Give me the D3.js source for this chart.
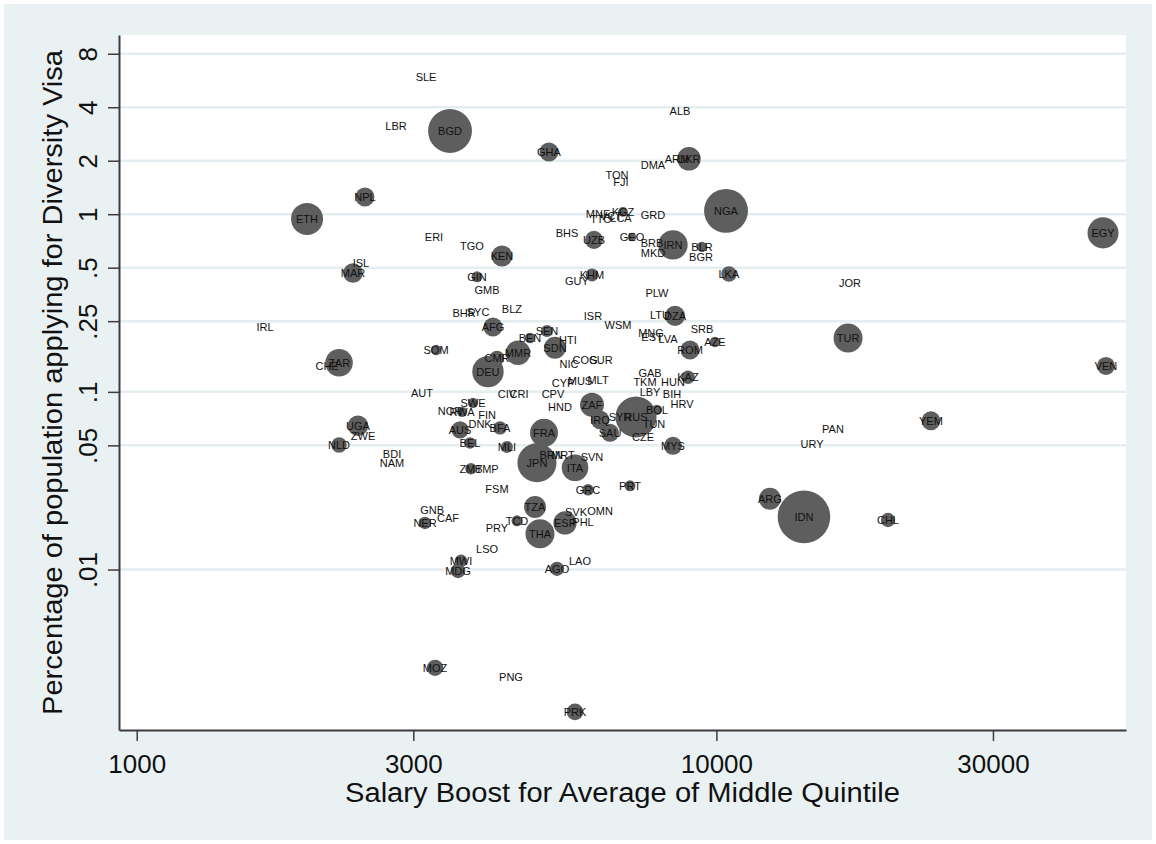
<!DOCTYPE html>
<html><head><meta charset="utf-8">
<script src="https://cdn.jsdelivr.net/npm/d3@7"></script>
<style>body{margin:0;background:#fff}svg{display:block}</style>
</head><body><svg id="c" width="1156" height="844"></svg>
<script>
const codes = ["SLE","LBR","BGD","NPL","ETH","ERI","TGO","ISL","MAR","GIN","GMB","ALB","GHA","ARM","UKR","DMA","TON","FJI","MNE","TTO","VCT","LCA","KGZ","GRD","BHS","UZB","GEO","BRB","IRN","MKD","BLR","BGR","KEN","LKA","KHM","GUY","NGA","EGY","JOR","SRB","AZE","TUR","VEN","YEM","PAN","URY","IRL","SOM","CHE","ZAR","AUT","UGA","ZWE","NLD","BDI","NAM","SWE","NOR","RWA","AUS","BEL","DNK","FIN","BFA","MLI","ZMB","TMP","FSM","GNB","NER","CAF","LSO","MWI","MDG","PRY","TCD","TZA","THA","FRA","JPN","BRN","MRT","ITA","SVN","GRC","SVK","OMN","ESP","PHL","AGO","LAO","CIV","CRI","CPV","HND","ZAF","IRQ","SAU","RUS","SYR","BOL","TUN","CZE","MYS","HRV","BIH","PRT","ARG","IDN","CHL","MOZ","PNG","PRK","BHR","SYC","BLZ","AFG","BEN","SEN","SDN","HTI","MMR","CMR","DEU","NIC","COG","SUR","CYP","MUS","MLT","LTU","DZA","PLW","ISR","WSM","MNG","EST","LVA","ROM","GAB","TKM","HUN","KAZ","LBY"];
const salaryBoost = [3156,2801,3471,2476,1967,3257,3788,2437,2361,3864,4021,8654,5142,8551,8968,7774,6738,6846,6249,6324,6580,6846,6901,7774,5525,6150,7152,7744,8416,7774,9445,9406,4267,10510,6101,5748,10390,46450,17000,9445,9945,16870,47000,23450,15890,14620,1665,3284,2130,2234,3106,2408,2457,2234,2757,2757,3803,3471,3641,3612,3758,3911,4021,4233,4352,3773,4021,4183,3232,3143,3443,4021,3626,3583,4183,4529,4865,4962,5042,4903,5184,5438,5703,6101,6005,5725,6299,5481,5887,5309,5817,4352,4565,5225,5373,6101,6299,6554,7267,6819,7898,7805,7472,8416,8724,8383,7096,12370,14160,19770,3271,4422,5703,3670,3880,4439,4117,4769,5102,5267,5546,4547,4183,4036,5568,5934,6324,5438,5817,6249,7993,8484,7898,6125,6766,7713,7744,8251,9004,7683,7531,8416,8933,7683];
const pctApplying = [5.93,3.14,2.94,1.25,0.941,0.745,0.663,0.532,0.467,0.444,0.375,3.81,2.24,2.05,2.05,1.89,1.66,1.52,1.00,0.941,0.978,0.953,1.03,0.991,0.785,0.717,0.745,0.689,0.672,0.606,0.655,0.575,0.582,0.461,0.455,0.421,1.044,0.785,0.411,0.226,0.191,0.201,0.140,0.0687,0.0619,0.0510,0.232,0.172,0.140,0.146,0.0987,0.0644,0.0565,0.0503,0.0448,0.0399,0.0867,0.0781,0.0772,0.0611,0.0516,0.0661,0.0743,0.0627,0.0490,0.0369,0.0369,0.0284,0.0217,0.0183,0.0195,0.0131,0.0112,0.00983,0.0172,0.0188,0.0225,0.0159,0.0588,0.0399,0.0442,0.0442,0.0374,0.0431,0.0281,0.0211,0.0214,0.0183,0.0186,0.0101,0.0112,0.0974,0.0974,0.0974,0.0823,0.0845,0.0696,0.0588,0.0723,0.0723,0.0792,0.0661,0.0558,0.0497,0.0856,0.0974,0.0296,0.0250,0.0198,0.0190,0.00280,0.00249,0.00158,0.278,0.282,0.293,0.232,0.201,0.220,0.177,0.196,0.166,0.155,0.130,0.144,0.151,0.151,0.112,0.115,0.117,0.271,0.268,0.361,0.268,0.238,0.215,0.204,0.199,0.172,0.128,0.114,0.114,0.121,0.100];
const weight = [0,0,160,30,85,0,0,0,32,10,0,0,30,0,46,0,0,0,0,0,0,0,8,0,0,27,6,0,72,0,9,0,37,20,14,0,160,80,0,0,9,70,27,30,0,0,0,9,0,63,0,35,0,20,0,0,9,0,9,25,11,0,0,15,12,11,0,0,0,13,0,0,13,18,0,10,40,70,65,127,0,0,59,0,11,0,0,45,0,17,0,0,0,0,0,48,29,27,140,0,9,0,0,27,0,0,10,40,230,17,22,0,23,0,0,0,30,9,12,40,0,50,18,82,0,0,0,0,0,0,0,34,0,0,0,0,0,0,30,0,0,0,15,0];
const xTicks = [1000,3000,10000,30000];
const yTicks = [0.01,0.05,0.1,0.25,0.5,1,2,4,8];
const yTickLabels = [".01",".05",".1",".25",".5","1","2","4","8"];
const xTitle = "Salary Boost for Average of Middle Quintile";
const yTitle = "Percentage of population applying for Diversity Visa";

const svg = d3.select("#c");
const L=119,R=1126,T=35,B=730;
const FONT = "'Liberation Sans', Arial, Helvetica, sans-serif";
svg.append("rect").attr("x",4).attr("y",4).attr("width",1148).attr("height",836).attr("fill","#eaf1f3");
svg.append("rect").attr("x",L).attr("y",T).attr("width",R-L).attr("height",B-T).attr("fill","#fff");

const x = d3.scaleLog().domain([932, 50890]).range([L,R]);
const y = d3.scaleLog().domain([0.00125, 10.2]).range([B,T]);
const r = d3.scaleSqrt().domain([0,230]).range([0,26.3]);

svg.append("g").selectAll("line").data(yTicks).join("line")
  .attr("x1",L).attr("x2",R).attr("y1",d=>y(d)).attr("y2",d=>y(d))
  .attr("stroke","#e4edef").attr("stroke-width",2.5);

const data = codes.map((c,i)=>({c, x:salaryBoost[i], y:pctApplying[i], w:weight[i]}));
const sorted = data.slice().sort((a,b)=>b.w-a.w);
svg.append("g").selectAll("circle").data(sorted.filter(d=>d.w>0)).join("circle")
  .attr("cx",d=>x(d.x)).attr("cy",d=>y(d.y)).attr("r",d=>r(d.w))
  .attr("fill","#5e5e5e");
svg.append("g").selectAll("text").data(data).join("text")
  .attr("x",d=>x(d.x)).attr("y",d=>y(d.y)).attr("dy","0.36em")
  .attr("text-anchor","middle").attr("font-family",FONT).attr("font-size",11)
  .attr("fill","#111").text(d=>d.c);

const gx = svg.append("g").attr("transform",`translate(0,${B})`)
  .call(d3.axisBottom(x).tickValues(xTicks).tickFormat(d3.format("d")).tickSize(11).tickSizeOuter(0).tickPadding(14));
const gy = svg.append("g").attr("transform",`translate(${L},0)`)
  .call(d3.axisLeft(y).tickValues(yTicks).tickFormat((d,i)=>yTickLabels[i]).tickSize(11).tickSizeOuter(0));
[gx,gy].forEach(g=>{
  g.select(".domain").attr("stroke","#3c3c3c").attr("stroke-width",2);
  g.selectAll(".tick line").attr("stroke","#3c3c3c").attr("stroke-width",1.5);
  g.selectAll("text").attr("font-family",FONT).attr("font-size",26).attr("fill","#111");
});
gy.selectAll(".tick text").attr("x",null).attr("dy",null).attr("text-anchor","middle")
  .attr("transform","translate(-22,0) rotate(-90)");

svg.append("text").attr("x",(L+R)/2).attr("y",802).attr("text-anchor","middle")
  .attr("font-family",FONT).attr("font-size",27).attr("fill","#111")
  .attr("textLength",555).attr("lengthAdjust","spacingAndGlyphs").text(xTitle);
svg.append("text").attr("transform",`translate(62,${(T+B)/2}) rotate(-90)`).attr("text-anchor","middle")
  .attr("font-family",FONT).attr("font-size",28).attr("fill","#111")
  .attr("textLength",665).attr("lengthAdjust","spacingAndGlyphs").text(yTitle);
</script></body></html>
